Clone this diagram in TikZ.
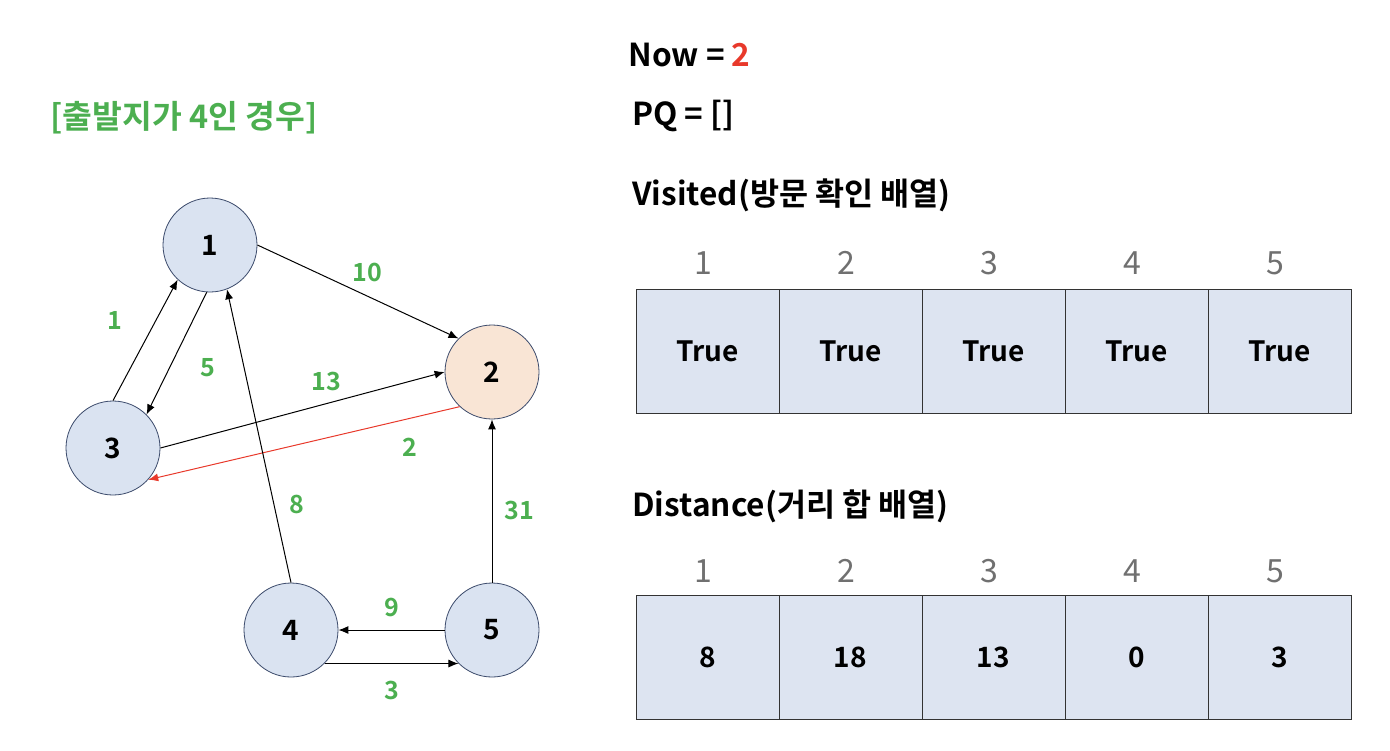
\documentclass[tikz,border=0pt]{standalone}
\usepackage{fontspec}
\setmainfont{Noto Sans CJK KR}[BoldFont={Noto Sans CJK KR Bold}]
\usetikzlibrary{arrows.meta}

\definecolor{nodeblue}{HTML}{DAE3F1}
\definecolor{nodepeach}{HTML}{F9E5D5}
\definecolor{nodeline}{HTML}{3B4A6B}
\definecolor{wgreen}{HTML}{4CAF50}
\definecolor{nowred}{HTML}{E8392B}
\definecolor{idxgray}{HTML}{707070}
\definecolor{cellblue}{HTML}{DDE4F1}

\tikzset{
  vertex/.style={circle, draw=nodeline, fill=nodeblue, minimum size=47pt, inner sep=0pt,
    font=\bfseries\fontsize{14}{14}\selectfont},
  edge/.style={-{Latex[length=5pt,width=4pt]}, line width=0.5pt},
  weight/.style={text=wgreen, font=\bfseries\fontsize{12.5}{12.5}\selectfont},
  cell/.style={rectangle, draw=black!80, fill=cellblue, minimum width=71.5pt,
    minimum height=62pt, inner sep=0pt, font=\bfseries\fontsize{14}{14}\selectfont},
  index/.style={text=idxgray, font=\fontsize{16}{16}\selectfont},
  heading/.style={anchor=west, inner sep=0pt, font=\bfseries\fontsize{15.8}{15.8}\selectfont}
}

\begin{document}
\begin{tikzpicture}[x=0.5pt, y=-0.5pt]
    \useasboundingbox (0,0) rectangle (1390,750);

    % Title (green)
    \node[heading, text=wgreen, font=\bfseries\fontsize{16.2}{16.2}\selectfont] (title) at (50,118) {[출발지가 4인 경우]};

    % Vertices
    \node[vertex] (n1) at (210,245) {1};
    \node[vertex, fill=nodepeach] (n2) at (492,372) {2};
    \node[vertex] (n3) at (113,448) {3};
    \node[vertex] (n4) at (291,630) {4};
    \node[vertex] (n5) at (492,630) {5};

    % Edges
    \draw[edge] (n1.east) -- (n2.135);
    \draw[edge] (n3.north) -- (n1.227);
    \draw[edge] (n1.266) -- (n3.45);
    \draw[edge] (n3.east) -- (n2.west);
    \draw[edge, color=nowred] (n2.227) -- (n3.318);
    \draw[edge] (n4.north) -- (n1.291);
    \draw[edge] (n5.north) -- (n2.south);
    \draw[edge] (n5.west) -- (n4.east);
    \draw[edge] (n4.315) -- (n5.225);

    % Edge weights
    \node[weight] (w12) at (367,272) {10};
    \node[weight] (w31) at (115,320) {1};
    \node[weight] (w13) at (208,368) {5};
    \node[weight] (w32) at (326,381) {13};
    \node[weight] (w23) at (410,447) {2};
    \node[weight] (w41) at (297,504) {8};
    \node[weight] (w52) at (519,510) {31};
    \node[weight] (w54) at (392,607) {9};
    \node[weight] (w45) at (392,690) {3};

    % State lines
    \node[heading] (now) at (628,55) {Now = \textcolor{nowred}{2}};
    \node[heading] (pq) at (632,116) {PQ = []};

    % Visited array
    \node[heading] (vtitle) at (632,195) {Visited(방문 확인 배열)};
    \foreach \i in {1,...,5} {
      \node[index] (vi\i) at ({636+143*(\i-0.5)-4},263) {\i};
      \node[cell] (v\i) at ({636+143*(\i-0.5)},351) {True};
    }

    % Distance array
    \node[heading] (dtitle) at (632,506) {Distance(거리 합 배열)};
    \foreach \i/\d in {1/8, 2/18, 3/13, 4/0, 5/3} {
      \node[index] (di\i) at ({636+143*(\i-0.5)-4},571) {\i};
      \node[cell] (d\i) at ({636+143*(\i-0.5)},657.5) {\d};
    }

  \end{tikzpicture}
\end{document}
